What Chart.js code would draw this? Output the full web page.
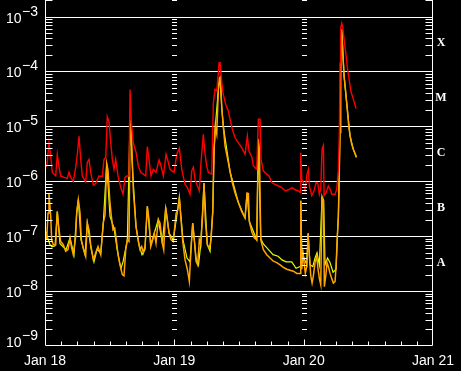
<!DOCTYPE html>
<html>
<head>
<meta charset="utf-8">
<script src="https://cdn.jsdelivr.net/npm/chart.js@4.4.1/dist/chart.umd.min.js"></script>
<style>
  html, body { margin: 0; padding: 0; background: #000; }
  #wrap { width: 461px; height: 371px; }
</style>
</head>
<body>
<div id="wrap"><canvas id="xrs"></canvas></div>
<script>
// =========================
// DATA (hours since Jan 18 00:00, flux in W/m^2)
// =========================
const dayLabels = ['Jan 18', 'Jan 19', 'Jan 20', 'Jan 21'];
const decadeExps = [-9, -8, -7, -6, -5, -4, -3];
const classLetters = ['A', 'B', 'C', 'M', 'X'];
const classMids = [3.16e-8, 3.16e-7, 3.16e-6, 3.16e-5, 3.16e-4];

// 1-8 A channel (red)
const longTime = [
  0.13, 0.37, 0.74, 1.06, 1.35, 1.99, 2.28, 2.60, 2.91, 3.53, 4.14, 4.45, 4.77, 5.25, 5.70, 6.00,
  6.31, 6.63, 6.92, 7.55, 7.85, 8.17, 8.48, 8.97, 9.41, 10.02, 10.64, 10.95, 11.27, 11.56, 11.88,
  12.19, 12.49, 12.81, 13.12, 13.55, 14.05, 14.48, 14.85, 15.16, 15.59, 15.78, 16.02, 16.39, 16.52,
  16.89, 17.32, 17.76, 18.25, 18.69, 18.99, 19.30, 19.67, 20.10, 20.60, 21.16, 21.48, 21.96, 22.46,
  22.89, 23.20, 23.94, 24.45, 24.93, 25.37, 25.99, 26.41, 26.91, 27.23, 27.53, 27.84, 28.16, 28.64,
  28.90, 29.38, 29.70, 30.01, 30.31, 30.94, 31.24, 31.55, 31.87, 32.17, 32.30, 32.48, 32.80, 33.09,
  33.54, 34.02, 34.34, 34.77, 35.27, 35.88, 36.51, 37.12, 37.55, 37.86, 38.37, 38.66, 39.29, 39.59,
  39.91, 40.09, 40.52, 41.15, 41.58, 42.08, 42.69, 43.30, 43.93, 44.55, 45.16, 45.90, 46.40, 47.02,
  47.33, 47.46, 47.65, 47.94, 48.26, 48.57, 48.87, 49.06, 49.50, 49.93, 50.30, 50.62, 50.91, 51.17,
  51.41, 51.66, 51.79, 52.16, 52.58, 52.90, 53.21, 53.83, 54.14, 54.44, 54.63, 54.75, 54.88, 55.07,
  55.26, 55.50, 55.81, 56.11, 56.48, 56.74, 57.11, 57.41, 57.72
];
const longFlux = [
  1.8e-6, 2.0e-6, 5.0e-6, 2.9e-6, 1.45e-6, 1.25e-6, 3.1e-6, 1.8e-6, 1.25e-6, 1.18e-6, 1.13e-6, 1.45e-6, 1.18e-6, 1.0e-6, 1.8e-6, 3.1e-6,
  6.6e-6, 2.5e-6, 1.25e-6, 0.97e-6, 2.2e-6, 2.5e-6, 1.45e-6, 0.85e-6, 0.92e-6, 1.25e-6, 1.23e-6, 2.5e-6, 2.7e-6, 1.5e-5, 1.2e-5,
  5.1e-6, 2.5e-6, 1.65e-6, 2.5e-6, 1.25e-6, 0.78e-6, 0.58e-6, 1.18e-6, 1.25e-6, 1.25e-6, 4.7e-5, 1.2e-5, 5.0e-6, 4.5e-6,
  3.4e-6, 1.9e-6, 1.45e-6, 1.35e-6, 1.25e-6, 4.3e-6, 2.5e-6, 1.25e-6, 1.65e-6, 1.45e-6, 2.45e-6, 2.0e-6, 1.25e-6, 3.1e-6,
  2.2e-6, 1.65e-6, 1.45e-6, 3.1e-6, 4.0e-6, 1.65e-6, 0.88e-6, 0.77e-6, 0.58e-6, 1.55e-6, 1.8e-6, 1.08e-6, 0.88e-6, 0.67e-6,
  1.9e-6, 7.2e-6, 3.1e-6, 1.9e-6, 1.45e-6, 1.35e-6, 2.7e-5, 4.7e-5, 4.4e-5, 9.5e-5, 1.44e-4, 1.45e-4, 6.2e-5, 3.8e-5,
  2.5e-5, 1.9e-5, 1.35e-5, 8.8e-6, 6.2e-6, 5.0e-6, 4.1e-6, 3.1e-6, 6.7e-6, 3.5e-6, 2.8e-6, 1.9e-6, 1.65e-6, 1.35e-5,
  1.35e-5, 2.5e-6, 1.55e-6, 1.35e-6, 1.25e-6, 0.95e-6, 0.88e-6, 0.82e-6, 0.77e-6, 0.67e-6, 0.7e-6, 0.77e-6, 0.7e-6, 0.67e-6,
  0.63e-6, 3.3e-6, 1.08e-6, 0.95e-6, 0.67e-6, 1.25e-6, 1.65e-6, 0.82e-6, 0.55e-6, 0.67e-6, 0.95e-6, 0.92e-6, 0.58e-6, 0.72e-6,
  3.9e-6, 4.5e-6, 0.55e-6, 0.62e-6, 0.82e-6, 0.72e-6, 0.58e-6, 0.58e-6, 0.72e-6, 1.65e-6, 7.7e-6, 1.44e-4, 6.2e-4, 7.5e-4,
  6.3e-4, 3.8e-4, 2.2e-4, 1.17e-4, 6.7e-5, 4.4e-5, 3.4e-5, 2.7e-5, 2.1e-5
];

// 0.5-4 A channel (orange)
const shortTime = [
  0.13, 0.32, 0.56, 0.74, 1.06, 1.24, 1.54, 1.99, 2.28, 2.60, 2.91, 3.40, 3.84, 4.27, 4.64, 4.88,
  5.25, 5.70, 5.88, 6.18, 6.50, 6.74, 7.11, 7.55, 7.85, 8.17, 8.48, 8.97, 9.41, 9.84, 10.34, 10.82,
  11.14, 11.45, 11.69, 12.01, 12.31, 12.62, 12.94, 13.23, 13.55, 13.92, 14.35, 14.66, 14.98, 15.28,
  15.59, 15.78, 16.02, 16.28, 16.39, 16.52, 16.89, 17.32, 17.63, 17.95, 18.25, 18.56, 18.99, 19.30,
  19.62, 19.99, 20.29, 20.60, 21.03, 21.34, 21.77, 22.03, 22.40, 22.70, 23.02, 23.39, 23.81, 24.32,
  24.63, 24.93, 25.19, 25.56, 25.99, 26.41, 26.78, 27.10, 27.41, 27.71, 28.03, 28.34, 28.64, 28.90,
  29.27, 29.51, 29.75, 30.12, 30.50, 30.81, 31.13, 31.37, 31.61, 31.87, 32.17, 32.36, 32.55, 32.80,
  33.09, 33.41, 33.84, 34.34, 34.77, 35.27, 35.88, 36.51, 37.12, 37.50, 37.74, 37.92, 38.37, 38.85,
  39.29, 39.59, 39.78, 40.04, 40.52, 41.15, 41.76, 42.37, 43.01, 43.62, 44.23, 44.86, 45.47, 46.09,
  46.72, 47.33, 47.46, 47.65, 47.83, 48.07, 48.31, 48.57, 48.82, 49.06, 49.32, 49.56, 49.80, 50.11,
  50.43, 50.67, 50.91, 51.17, 51.41, 51.66, 51.84, 52.10, 52.34, 52.58, 52.90, 53.21, 53.51, 53.83,
  54.01, 54.25, 54.44, 54.63, 54.75, 54.88, 55.07, 55.26, 55.50, 55.81, 56.11, 56.37, 56.61, 56.92,
  57.22, 57.54, 57.78
];
const shortFlux = [
  1.22e-7, 0.86e-7, 2.65e-7, 6.1e-7, 2.3e-7, 0.86e-7, 0.7e-7, 0.7e-7, 2.8e-7, 1.3e-7, 0.8e-7, 0.7e-7, 0.53e-7, 0.57e-7, 0.93e-7, 0.65e-7,
  0.46e-7, 1.0e-7, 2.65e-7, 4.6e-7, 2.65e-7, 0.86e-7, 0.6e-7, 0.43e-7, 1.74e-7, 1.3e-7, 0.7e-7, 0.37e-7, 0.5e-7, 0.65e-7, 0.46e-7, 1.74e-7,
  2.45e-7, 2.1e-6, 1.6e-6, 4.6e-7, 2.3e-7, 1.3e-7, 1.4e-7, 0.86e-7, 0.46e-7, 0.3e-7, 0.2e-7, 0.19e-7, 0.57e-7, 0.86e-7,
  0.8e-7, 1.3e-5, 7.7e-6, 1.4e-6, 7.0e-7, 4.6e-7, 1.5e-7, 0.8e-7, 0.57e-7, 0.65e-7, 0.5e-7, 0.65e-7, 3.5e-7, 2.0e-7,
  0.65e-7, 0.86e-7, 1.14e-7, 0.75e-7, 2.0e-7, 1.74e-7, 0.75e-7, 0.57e-7, 3.3e-7, 2.0e-7, 1.14e-7, 0.86e-7, 0.8e-7, 2.6e-7,
  3.0e-7, 5.0e-7, 2.3e-7, 0.8e-7, 0.37e-7, 0.25e-7, 0.15e-7, 0.57e-7, 1.74e-7, 0.86e-7, 0.35e-7, 0.3e-7, 0.86e-7, 0.7e-7,
  2.6e-7, 9.3e-7, 2.0e-7, 0.7e-7, 0.6e-7, 0.86e-7, 2.8e-7, 3.7e-6, 1.0e-5, 7.3e-6, 4.7e-5, 7.5e-5, 8.0e-5, 2.2e-5,
  1.0e-5, 4.4e-6, 2.7e-6, 1.5e-6, 0.93e-6, 0.61e-6, 4.1e-7, 2.8e-7, 2.15e-7, 6.1e-7, 6.0e-7, 1.85e-7, 1.2e-7, 0.93e-7,
  0.86e-7, 5.8e-6, 3.8e-6, 0.86e-7, 0.57e-7, 0.46e-7, 0.4e-7, 0.35e-7, 0.33e-7, 0.3e-7, 0.27e-7, 0.25e-7, 0.24e-7, 0.23e-7,
  0.21e-7, 0.21e-7, 4.4e-7, 0.25e-7, 0.57e-7, 0.33e-7, 0.21e-7, 0.28e-7, 1.14e-7, 0.43e-7, 0.19e-7, 0.14e-7, 0.19e-7, 0.33e-7,
  0.43e-7, 0.25e-7, 0.17e-7, 0.13e-7, 5.3e-7, 4.6e-7, 0.12e-7, 0.19e-7, 0.33e-7, 0.28e-7, 0.21e-7, 0.17e-7, 0.14e-7, 0.15e-7,
  0.28e-7, 1.0e-7, 2.3e-7, 1.85e-6, 7.7e-6, 1.9e-4, 5.8e-4, 2.2e-4, 8.2e-5, 4.1e-5, 2.0e-5, 1.0e-5, 6.7e-6, 4.7e-6,
  3.8e-6, 3.2e-6, 2.8e-6
];

// 0.5-4 A channel, secondary satellite (yellow, drawn underneath)
const backupTime = [
  0.13, 0.93, 1.30, 1.86, 2.28, 2.78, 3.90, 4.64, 5.38, 5.88, 6.18, 6.68, 7.42, 7.85, 8.54, 9.09,
  9.65, 10.34, 10.82, 11.45, 12.06, 12.81, 13.36, 13.83, 14.11, 14.48, 14.98, 15.28, 15.78, 16.28,
  16.89, 17.45, 18.00, 18.56, 18.99, 19.62, 20.29, 21.03, 21.77, 22.40, 23.02, 23.81, 24.93, 25.61,
  26.35, 26.91, 27.41, 28.03, 28.49, 28.90, 29.51, 30.12, 30.63, 31.13, 31.37, 31.61, 32.17, 32.48,
  32.80, 33.09, 34.34, 35.88, 37.12, 37.50, 37.92, 39.29, 39.59, 40.04, 40.52, 41.39, 42.32, 43.25,
  43.99, 44.73, 45.79, 46.59, 47.33, 47.46, 47.70, 48.07, 48.57, 48.82, 49.19, 49.69, 50.11, 50.48,
  50.91, 51.41, 51.70, 51.97, 52.43, 52.90, 53.45, 54.01, 54.25, 54.44, 54.63, 54.88, 55.07, 55.50,
  56.11, 56.61, 57.22, 57.78
];
const backupFlux = [
  1.2e-7, 0.7e-7, 0.64e-7, 0.67e-7, 2.8e-7, 0.73e-7, 0.57e-7, 0.93e-7, 0.46e-7, 2.65e-7, 4.6e-7, 0.86e-7, 0.46e-7, 1.74e-7, 0.6e-7, 0.34e-7,
  0.57e-7, 0.5e-7, 1.74e-7, 2.1e-6, 2.3e-7, 1.4e-7, 0.6e-7, 0.34e-7, 0.26e-7, 0.34e-7, 0.6e-7, 0.86e-7, 1.3e-5, 1.4e-6,
  1.5e-7, 0.7e-7, 0.46e-7, 0.57e-7, 3.5e-7, 0.7e-7, 1.14e-7, 2.0e-7, 0.75e-7, 3.3e-7, 1.14e-7, 0.86e-7, 5.0e-7, 0.86e-7,
  0.4e-7, 0.34e-7, 1.74e-7, 0.4e-7, 0.3e-7, 0.7e-7, 9.3e-7, 0.7e-7, 0.53e-7, 2.8e-7, 3.7e-6, 1.0e-5, 4.7e-5, 8.0e-5,
  2.2e-5, 1.0e-5, 1.5e-6, 4.1e-7, 2.15e-7, 6.1e-7, 1.85e-7, 0.86e-7, 5.8e-6, 0.9e-7, 0.72e-7, 0.58e-7, 0.46e-7, 0.43e-7,
  0.37e-7, 0.34e-7, 0.34e-7, 0.26e-7, 0.28e-7, 4.4e-7, 0.33e-7, 0.4e-7, 0.3e-7, 1.1e-7, 0.3e-7, 0.28e-7, 0.4e-7, 0.5e-7,
  0.3e-7, 5.0e-7, 4.5e-7, 0.3e-7, 0.4e-7, 0.33e-7, 0.22e-7, 0.25e-7, 1.0e-7, 2.3e-7, 1.85e-6, 1.9e-4, 5.8e-4, 8.2e-5,
  2.0e-5, 6.7e-6, 3.8e-6, 2.7e-6
];

function toPoints(times, values) {
  return times.map((t, i) => ({ x: t, y: values[i] }));
}

// =========================
// AXES / FRAME PLUGIN
// =========================
const LABEL_FONT = '14px "Liberation Sans", Arial, sans-serif';

function minorValues(yScale) {
  const vals = [];
  for (let e = -9; e <= -3; e++) {
    for (let k = 2; k <= 9; k++) {
      const v = k * Math.pow(10, e);
      if (v <= yScale.max) vals.push(v);
    }
  }
  return vals;
}

const goesFrame = {
  id: 'goesFrame',
  beforeDatasetsDraw(chart) {
    const { ctx, chartArea: a, scales: { y } } = chart;
    ctx.save();
    ctx.strokeStyle = '#fff';
    ctx.lineWidth = 1;
    // decade grid lines
    decadeExps.forEach(e => {
      if (e === -9) return;
      const py = Math.round(y.getPixelForValue(Math.pow(10, e))) + 0.5;
      ctx.beginPath();
      ctx.moveTo(a.left, py);
      ctx.lineTo(a.right, py);
      ctx.stroke();
    });
    ctx.restore();
  },
  afterDatasetsDraw(chart) {
    const { ctx, chartArea: a, scales: { x, y } } = chart;
    ctx.save();
    ctx.strokeStyle = '#fff';
    ctx.lineWidth = 1;

    // frame
    const L = Math.round(a.left) + 0.5, R = Math.round(a.right) - 0.5, B = Math.round(a.bottom) - 0.5;
    ctx.beginPath();
    ctx.moveTo(L, a.top); ctx.lineTo(L, B); ctx.lineTo(R, B); ctx.lineTo(R, a.top);
    ctx.stroke();

    // minor y ticks on both sides, dashes on day boundaries
    const mins = minorValues(y);
    ctx.beginPath();
    mins.forEach(v => {
      const py = Math.round(y.getPixelForValue(v)) + 0.5;
      ctx.moveTo(L, py); ctx.lineTo(L + 7, py);
      ctx.moveTo(R, py); ctx.lineTo(R - 7, py);
      [24, 48].forEach(h => {
        const px = Math.round(x.getPixelForValue(h));
        ctx.moveTo(px - 2, py); ctx.lineTo(px + 3, py);
      });
    });
    ctx.stroke();

    // x ticks every 3 hours
    ctx.beginPath();
    for (let h = 3; h < 72; h += 3) {
      const px = Math.round(x.getPixelForValue(h)) + 0.5;
      const len = (h % 24 === 0) ? 6 : 4;
      ctx.moveTo(px, B); ctx.lineTo(px, B - len);
    }
    ctx.stroke();
    ctx.restore();
  },
  afterDraw(chart) {
    const { ctx, scales: { x, y } } = chart;
    ctx.save();
    ctx.fillStyle = '#fff';
    ctx.font = LABEL_FONT;
    ctx.textBaseline = 'alphabetic';

    // y labels 10^n
    decadeExps.forEach(e => {
      const py = y.getPixelForValue(Math.pow(10, e));
      let base = py + 6;
      if (base > 347) base = 347;
      ctx.textAlign = 'left';
      ctx.fillText('10', 6, base);
      ctx.fillText('\u2212' + Math.abs(e), 22, base - 7);
    });

    // x labels
    ctx.textAlign = 'center';
    dayLabels.forEach((lab, i) => {
      ctx.fillText(lab, x.getPixelForValue(i * 24), 365);
    });

    // flare classes
    ctx.font = 'bold 12px "Liberation Serif", "DejaVu Serif", serif';
    ctx.textBaseline = 'middle';
    classLetters.forEach((c, i) => {
      ctx.fillText(c, 441, y.getPixelForValue(classMids[i]) - 1);
    });
    ctx.restore();
  }
};

// =========================
// CHART
// =========================
function lineSet(label, pts, color, order, width) {
  return {
    label,
    data: pts,
    order,
    borderColor: color,
    backgroundColor: color,
    borderWidth: width,
    pointRadius: 0,
    tension: 0,
    fill: false
  };
}

// lower "order" is painted last (on top): red over orange over yellow
new Chart(document.getElementById('xrs'), {
  type: 'line',
  data: {
    datasets: [
      lineSet('1-8 A', toPoints(longTime, longFlux), '#ff0000', 0, 1.4),
      lineSet('0.5-4 A', toPoints(shortTime, shortFlux), '#ffa500', 1, 1.5),
      lineSet('0.5-4 A (2)', toPoints(backupTime, backupFlux), '#ddff00', 2, 1.2)
    ]
  },
  options: {
    responsive: true,
    maintainAspectRatio: false,
    animation: false,
    events: [],
    layout: { padding: { left: 45, right: 28, top: 0, bottom: 25 } },
    scales: {
      x: { type: 'linear', display: false, min: 0, max: 72 },
      y: { type: 'logarithmic', display: false, min: 1e-9, max: 2e-3 }
    },
    plugins: {
      legend: { display: false },
      tooltip: { enabled: false }
    }
  },
  plugins: [goesFrame]
});
</script>
</body>
</html>
